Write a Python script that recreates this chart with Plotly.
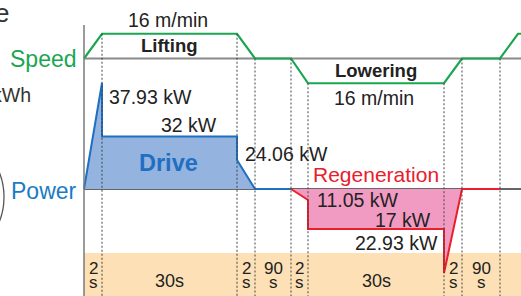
import numpy as np
import plotly.graph_objects as go

# ---------------- data ----------------
# one lifting / lowering cycle (schematic, not drawn to scale)
phase_time_top = ["2", "30s", "2", "90", "2", "30s", "2", "90"]
phase_time_bottom = ["s", "", "s", "s", "s", "", "s", "s"]
phase_draw_width = [18, 135, 18, 36, 17, 136, 18, 38]   # schematic widths

speed_mpm = [0, 16, 16, 0, 0, -16, -16, 0, 0, 16, 16]   # at phase boundaries
drive_kw = [0, 37.93, 32, 32, 24.06, 0, 0]
regen_kw = [0, -11.05, -17, -17, -22.93, 0, 0]

# schematic (non-linear) power scale used by the original drawing
power_scale_kw = [-22.93, -17, -11.05, 0, 24.06, 32, 37.93]
power_scale_pos = [273, 229, 200, 189, 160, 136.5, 83]

# ---------------- geometry helpers ----------------
X0 = 84
bnd = list(X0 + np.concatenate([[0], np.cumsum(phase_draw_width)]))
SPEED_BASE = 58.5
SPEED_K = 24.75 / 16


def speed_y(v):
    return [SPEED_BASE - s * SPEED_K for s in v]


def power_y(v):
    return list(np.interp(v, power_scale_kw, power_scale_pos))


speed_x = bnd + [bnd[-1] + 18, 540]
drive_x = [bnd[0], bnd[1], bnd[1], bnd[2], bnd[2], bnd[3], bnd[4]]
regen_x = [bnd[4], bnd[5], bnd[5], bnd[6], bnd[6], bnd[7], bnd[8]]

GREEN = "#1aa650"
BLUE = "#1f6fc2"
BLUE_FILL = "#94b3de"
RED = "#e8202c"
PINK = "#f29bc2"
ORANGE = "#fde0b6"
TXT = "#222222"
FONT = "Liberation Sans"
RIGHT = 540
BOTTOM = 310

fig = go.Figure()

# baselines
fig.add_trace(go.Scatter(x=[X0, RIGHT], y=[SPEED_BASE, SPEED_BASE], mode="lines",
                         line=dict(color="#8a8a8a", width=2), hoverinfo="skip"))
fig.add_trace(go.Scatter(x=[X0, RIGHT], y=power_y([0, 0]), mode="lines",
                         line=dict(color="#333333", width=1.3), hoverinfo="skip"))
# fills
fig.add_trace(go.Scatter(x=drive_x[:-1], y=power_y(drive_kw[:-1]), mode="lines",
                         fill="toself", fillcolor=BLUE_FILL,
                         line=dict(width=0), hoverinfo="skip"))
fig.add_trace(go.Scatter(x=regen_x[:-1], y=power_y(regen_kw[:-1]), mode="lines",
                         fill="toself", fillcolor=PINK,
                         line=dict(width=0), hoverinfo="skip"))
# outlines
fig.add_trace(go.Scatter(x=drive_x, y=power_y(drive_kw), mode="lines",
                         line=dict(color=BLUE, width=2), hoverinfo="skip"))
fig.add_trace(go.Scatter(x=regen_x, y=power_y(regen_kw), mode="lines",
                         line=dict(color=RED, width=2), hoverinfo="skip"))
fig.add_trace(go.Scatter(x=speed_x, y=speed_y(speed_mpm), mode="lines",
                         line=dict(color=GREEN, width=2.2), hoverinfo="skip"))

shapes = []
# bottom timing band
shapes.append(dict(type="rect", xref="x", yref="y", x0=X0, x1=RIGHT, y0=253, y1=BOTTOM,
                   fillcolor=ORANGE, line=dict(width=0), layer="below"))
# vertical axis
shapes.append(dict(type="line", xref="x", yref="y", x0=X0, x1=X0, y0=25, y1=BOTTOM,
                   line=dict(color="#7a7a7a", width=1.5), layer="above"))
# dashed phase dividers
sp = speed_y(speed_mpm)
for i in range(1, 9):
    shapes.append(dict(type="line", xref="x", yref="y", x0=bnd[i], x1=bnd[i],
                       y0=sp[i], y1=BOTTOM,
                       line=dict(color="#444444", width=1, dash="2px,2px"),
                       layer="above"))
# white backing behind "Regeneration"
shapes.append(dict(type="rect", xref="x", yref="y", x0=311, x1=441, y0=163, y1=187,
                   fillcolor="white", line=dict(width=0), layer="above"))
# partial circle at left edge
shapes.append(dict(type="circle", xref="x", yref="y", x0=-126, x1=4, y0=132, y1=262,
                   line=dict(color="#555555", width=1.3), layer="above"))

ann = []


def t(text, x, y, size=19.5, color=TXT, xa="center", bold=False):
    ann.append(dict(text=f"<b>{text}</b>" if bold else text, x=x, y=y,
                    xref="x", yref="y", xanchor=xa, yanchor="middle",
                    showarrow=False, font=dict(family=FONT, size=size, color=color)))


t("16 m/min", 167.5, 20)
t("Lifting", 169, 45.5, size=18.5, bold=True)
t("Lowering", 376, 70.5, size=18.5, bold=True)
t("16 m/min", 374, 97.5)
t(f"{drive_kw[1]:.2f} kW", 106.5, 96.5, xa="left")
t(f"{drive_kw[2]:.0f} kW", 218.5, 124.5, xa="right")
t(f"{drive_kw[4]:.2f} kW", 243, 153.5, xa="left")
t("Drive", 168, 163, size=23.5, color=BLUE, bold=True)
t("Regeneration", 376, 174.5, size=21, color=RED)
t(f"{-regen_kw[1]:.2f} kW", 315, 199.5, xa="left")
t(f"{-regen_kw[2]:.0f} kW", 433, 219.5, xa="right")
t(f"{-regen_kw[4]:.2f} kW", 440, 242.5, xa="right")
t("Speed", 43, 58.6, size=23, color=GREEN)
t("Power", 44, 191, size=23, color="#1a7cc4")
t("kWh", 33, 94.5, xa="right", color="#333333")
t("e", 11, 13, size=26, xa="right", color="#333333")

for i in range(8):
    cx = (bnd[i] + bnd[i + 1]) / 2
    if phase_time_bottom[i]:
        t(phase_time_top[i], cx, 268.5, size=17)
        t(phase_time_bottom[i], cx, 282, size=17)
    else:
        t(phase_time_top[i], cx, 281, size=18)

fig.update_layout(
    width=521, height=296, margin=dict(l=0, r=0, t=0, b=0),
    paper_bgcolor="white", plot_bgcolor="white", showlegend=False,
    xaxis=dict(range=[0, 521], visible=False, fixedrange=True),
    yaxis=dict(range=[296, 0], visible=False, fixedrange=True),
    shapes=shapes, annotations=ann,
)
fig.write_html("out.html", config={"displayModeBar": False, "staticPlot": True},
               post_script="document.body.style.margin='0';"
                           "document.body.style.overflow='hidden';")
